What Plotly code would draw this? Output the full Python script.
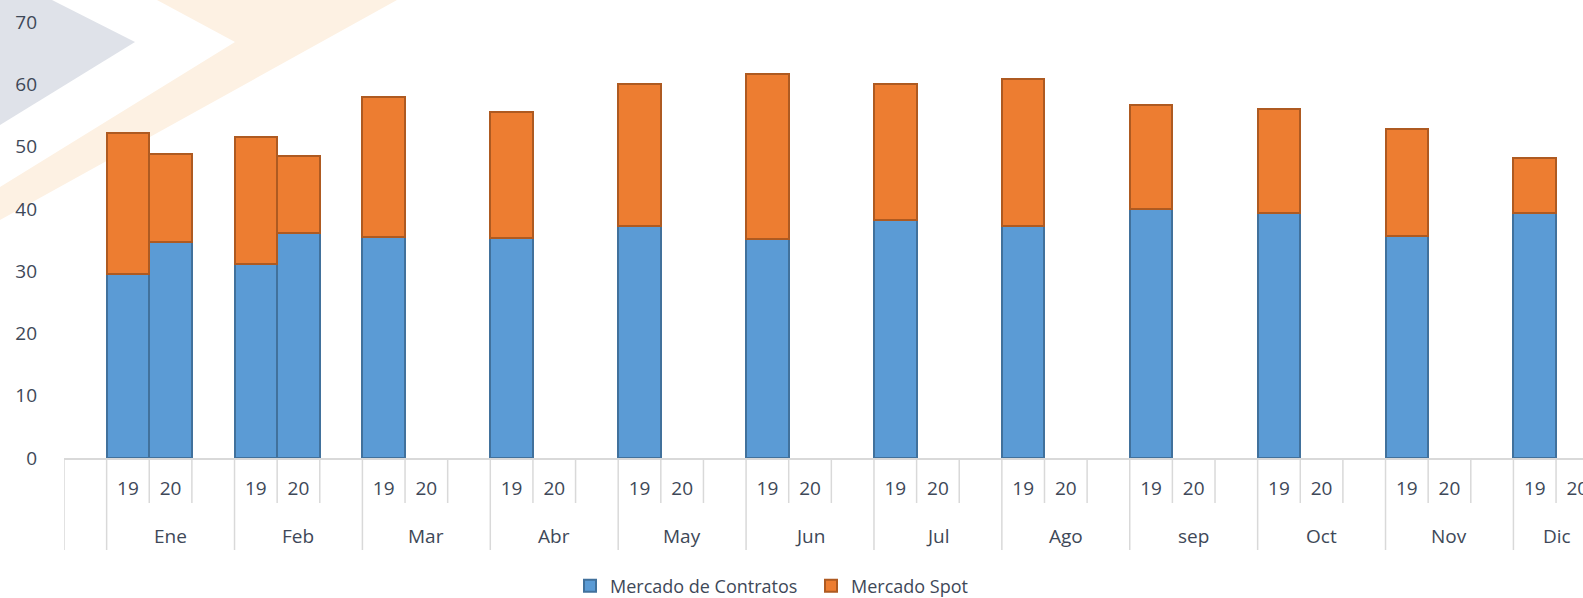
import plotly.graph_objects as go

# ---------------- data ----------------
months = ["Ene", "Feb", "Mar", "Abr", "May", "Jun", "Jul", "Ago", "sep", "Oct", "Nov", "Dic"]
years = ["19", "20"]
contratos_19 = [29.5, 31.1, 35.5, 35.3, 37.3, 35.2, 38.2, 37.3, 40.0, 39.4, 35.6, 39.4]
spot_19 = [22.7, 20.5, 22.4, 20.2, 22.8, 26.4, 21.9, 23.5, 16.7, 16.7, 17.2, 8.8]
contratos_20 = [34.7, 36.2, None, None, None, None, None, None, None, None, None, None]
spot_20 = [14.1, 12.3, None, None, None, None, None, None, None, None, None, None]
y_ticks = [0, 10, 20, 30, 40, 50, 60, 70]

# ---------------- geometry ----------------
W, H = 1583, 598
ML, MR, MT, MB = 64, 0, 22, 140
PW, PH = W - ML - MR, H - MT - MB
SLOT = 42.63                      # px per category slot
XMAX = PW / SLOT                  # visible range in slot units


def px_x(px):
    return (px - ML) / PW


def px_y(py):
    return (H - MB - py) / PH


TXT = "#3E4858"
FONT = "Open Sans, Segoe UI, sans-serif"

# slot index: 0 is blank lead slot; month m -> 1+3m (19), 2+3m (20), 3+3m (blank)
ticks_v, ticks_t = [], []
x19 = [1 + 3 * m + 0.5 for m in range(len(months))]
x20 = [2 + 3 * m + 0.5 for m in range(len(months))]
bx, bc, bs = [], [], []
for m in range(len(months)):
    bx.append(x19[m]); bc.append(contratos_19[m]); bs.append(spot_19[m])
    if contratos_20[m] is not None:
        bx.append(x20[m]); bc.append(contratos_20[m]); bs.append(spot_20[m])
    ticks_v += [x19[m], x20[m]]
    ticks_t += years

fig = go.Figure()
fig.add_trace(go.Bar(
    x=bx, y=bc, name="Mercado de Contratos", width=1,
    marker=dict(color="#5B9BD5", line=dict(color="#41719C", width=2)),
))
fig.add_trace(go.Bar(
    x=bx, y=bs, name="Mercado Spot", width=1,
    marker=dict(color="#ED7D31", line=dict(color="#AE5A21", width=2)),
))

shapes = []


def poly(points):
    return "M " + " L ".join(f"{px_x(a):.5f},{px_y(b):.5f}" for a, b in points) + " Z"


# watermark chevrons (background decoration)
shapes.append(dict(type="path", xref="paper", yref="paper", layer="below",
                   path=poly([(0, 0), (52, 0), (135, 42), (0, 125)]),
                   fillcolor="#DFE2E9", line=dict(width=0)))
shapes.append(dict(type="path", xref="paper", yref="paper", layer="below",
                   path=poly([(157, 0), (397, 0), (0, 220), (0, 187), (235, 42)]),
                   fillcolor="#FDF1E3", line=dict(width=0)))

# category dividers
LINE = "#D9D9D9"
short_end = px_y(503)
long_end = px_y(550)
group_starts = [0] + [1 + 3 * m for m in range(len(months))] + [1 + 3 * len(months)]
for k in range(0, 3 * len(months) + 2):
    if k in group_starts:
        y1 = long_end
    elif (k - 1) % 3 in (1, 2):
        y1 = short_end
    else:
        continue
    shapes.append(dict(type="line", xref="x", yref="paper", x0=k, x1=k, y0=0, y1=y1,
                       line=dict(color=LINE, width=1.5), layer="above"))

annotations = []
for m, name in enumerate(months):
    g0, g1 = 1 + 3 * m, 4 + 3 * m
    vis1 = min(g1, XMAX + 0.4)
    cx = (g0 + vis1) / 2
    annotations.append(dict(x=cx, xref="x", y=px_y(536), yref="paper", text=name,
                            showarrow=False, font=dict(family=FONT, size=19, color=TXT),
                            xanchor="center", yanchor="middle"))

fig.update_layout(
    width=W, height=H,
    margin=dict(l=ML, r=MR, t=MT, b=MB, pad=0, autoexpand=False),
    paper_bgcolor="white", plot_bgcolor="rgba(0,0,0,0)",
    barmode="stack", bargap=0,
    font=dict(family=FONT, size=19, color=TXT),
    shapes=shapes, annotations=annotations,
    xaxis=dict(range=[0, XMAX], showgrid=False, zeroline=False, automargin=False,
               showline=True, linecolor=LINE, linewidth=1.5,
               tickmode="array", tickvals=ticks_v, ticktext=ticks_t,
               ticks="", ticklabelstandoff=12, ticklabeloverflow="allow",
               tickfont=dict(family=FONT, size=19, color=TXT)),
    yaxis=dict(range=[0, 70], tickmode="array", tickvals=y_ticks, automargin=False,
               showgrid=False, zeroline=False, showline=False, ticks="",
               ticklabelstandoff=26,
               tickfont=dict(family=FONT, size=19, color=TXT)),
    legend=dict(orientation="h", x=px_x(570), xanchor="left",
                y=px_y(586), yanchor="middle",
                font=dict(family=FONT, size=18, color=TXT),
                entrywidth=196, entrywidthmode="pixels",
                traceorder="normal", bgcolor="rgba(0,0,0,0)"),
)

fig.write_html(
    "out.html",
    config={"displayModeBar": False},
    post_script="document.body.style.margin='0';document.body.style.overflow='hidden';",
)
